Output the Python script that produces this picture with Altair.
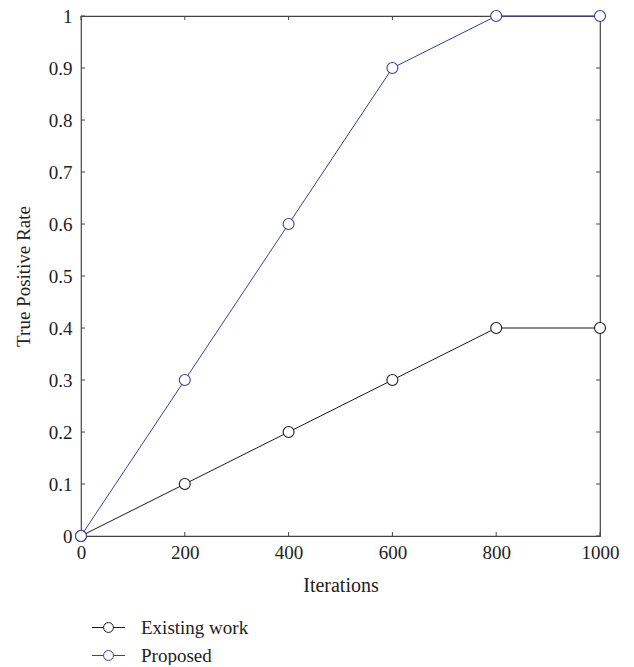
import altair as alt
import pandas as pd

iterations = [0, 200, 400, 600, 800, 1000]
existing = [0, 0.1, 0.2, 0.3, 0.4, 0.4]
proposed = [0, 0.3, 0.6, 0.9, 1.0, 1.0]
series_names = ["Existing work", "Proposed"]
series_colors = ["#1a1a1a", "#3c3ca6"]
x_ticks = [0, 200, 400, 600, 800, 1000]
y_ticks = [0, 0.1, 0.2, 0.3, 0.4, 0.5, 0.6, 0.7, 0.8, 0.9, 1.0]

W, H = 519, 520
FONT = "Liberation Serif"

df = pd.DataFrame({
    "Iterations": iterations * 2,
    "TPR": existing + proposed,
    "Series": [series_names[0]] * len(iterations) + [series_names[1]] * len(iterations),
})
xt = pd.DataFrame({"v": x_ticks})
yt = pd.DataFrame({"v": y_ticks})

xscale = alt.Scale(domain=[0, 1000], nice=False)
yscale = alt.Scale(domain=[0, 1], nice=False)

legend_path = ("M-2,0L-0.6,0M0.6,0L2,0"
               "M-0.6,0A0.6,0.6,0,1,1,0.6,0A0.6,0.6,0,1,1,-0.6,0")

lines = alt.Chart(df).mark_line(
    strokeWidth=1,
    point=alt.OverlayMarkDef(filled=False, fill="white", size=120, strokeWidth=1.1),
).encode(
    x=alt.X("Iterations:Q", scale=xscale, title="Iterations",
            axis=alt.Axis(values=x_ticks, ticks=False, domain=False, grid=False,
                          labelFlush=False, labelPadding=7, titlePadding=13,
                          titleFontSize=20, format="d")),
    y=alt.Y("TPR:Q", scale=yscale, title="True Positive Rate",
            axis=alt.Axis(values=y_ticks, ticks=False, domain=False, grid=False,
                          labelFlush=False, labelPadding=9, titlePadding=15,
                          format="~g")),
    color=alt.Color("Series:N",
                    scale=alt.Scale(domain=series_names, range=series_colors),
                    legend=alt.Legend(title=None, orient="none", legendX=18, legendY=602,
                                      symbolType=legend_path, symbolSize=272,
                                      symbolStrokeWidth=1, symbolFillColor="transparent",
                                      labelFont=FONT, labelFontSize=19, labelColor="#222",
                                      labelOffset=23, rowPadding=8)),
)

tick_len = 4
ax_col = "#444"
left_ticks = alt.Chart(yt).mark_rule(color=ax_col, strokeWidth=1).encode(
    y=alt.Y("v:Q", scale=yscale), x=alt.value(0), x2=alt.value(tick_len))
right_ticks = alt.Chart(yt).mark_rule(color=ax_col, strokeWidth=1).encode(
    y=alt.Y("v:Q", scale=yscale), x=alt.value(W - tick_len), x2=alt.value(W))
bottom_ticks = alt.Chart(xt).mark_rule(color=ax_col, strokeWidth=1).encode(
    x=alt.X("v:Q", scale=xscale), y=alt.value(H - tick_len), y2=alt.value(H))
top_ticks = alt.Chart(xt).mark_rule(color=ax_col, strokeWidth=1).encode(
    x=alt.X("v:Q", scale=xscale), y=alt.value(0), y2=alt.value(tick_len))

chart = alt.layer(left_ticks, right_ticks, bottom_ticks, top_ticks, lines).properties(
    width=W, height=H,
    autosize=alt.AutoSizeParams(type="none"),
    padding={"left": 73, "top": 8, "right": 20, "bottom": 129},
).configure_view(
    stroke=ax_col, strokeWidth=1.2
).configure_axis(
    labelFont=FONT, labelFontSize=19, labelColor="#222",
    titleFont=FONT, titleFontSize=19, titleFontWeight="normal", titleColor="#222",
)

chart.save("out.html", embed_options={"renderer": "svg", "actions": False})
